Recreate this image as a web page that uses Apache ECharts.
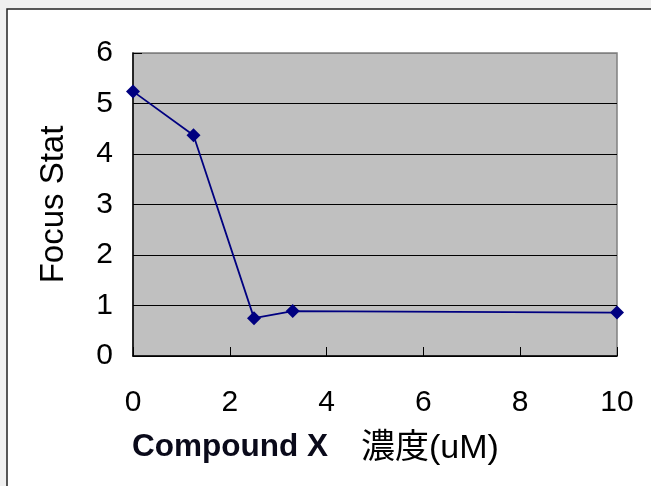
<!DOCTYPE html>
<html>
<head>
<meta charset="utf-8">
<script src="https://cdn.jsdelivr.net/npm/echarts@6/dist/echarts.min.js"></script>
<style>
  html, body { margin: 0; padding: 0; background: #f0f0f0; }
  #chart { width: 651px; height: 486px; }
</style>
</head>
<body>
<div id="chart"></div>
<script>
// concentrations (uM) and measured focus stat
const concentrations = [0, 1.25, 2.5, 3.3, 10];
const focusStat = [5.24, 4.37, 0.75, 0.89, 0.86];
const xTicks = [0, 2, 4, 6, 8, 10];
const yTicks = [0, 1, 2, 3, 4, 5, 6];

const chart = echarts.init(document.getElementById("chart"));

const fontMain = "Liberation Sans, Arial, sans-serif";

const options = {
  backgroundColor: "#f0f0f0",
  animation: false,
  // cadre blanc autour du graphique
  graphic: [
    {
      type: "rect",
      z: -100,
      shape: { x: 7, y: 9, width: 700, height: 600 },
      style: { fill: "#ffffff", stroke: "#222222", lineWidth: 1.5 },
    },
  ],
  title: [
    {
      text: "Compound X",
      left: 132,
      top: 431,
      padding: 0,
      textStyle: { fontFamily: fontMain, fontSize: 31.5, fontWeight: "bold", color: "#0a0a1a" },
    },
    {
      text: "濃度(uM)",
      left: 361,
      top: 432,
      padding: 0,
      textStyle: {
        fontFamily: "Liberation Sans, Noto Sans CJK JP, sans-serif",
        fontSize: 34,
        fontWeight: "normal",
        color: "#000",
      },
    },
  ],
  grid: {
    left: 133,
    top: 53,
    right: 34,
    bottom: 130,
    show: true,
    backgroundColor: "#c0c0c0",
    borderColor: "#808080",
    borderWidth: 1.5,
  },
  xAxis: {
    type: "value",
    min: xTicks[0],
    max: xTicks[xTicks.length - 1],
    interval: 2,
    axisLine: { lineStyle: { color: "#000", width: 1.5 } },
    axisTick: { inside: true, length: 9, lineStyle: { color: "#000" } },
    axisLabel: { fontFamily: fontMain, fontSize: 30, color: "#000", margin: 32 },
    splitLine: { show: false },
  },
  yAxis: {
    type: "value",
    min: yTicks[0],
    max: yTicks[yTicks.length - 1],
    interval: 1,
    name: "Focus Stat",
    nameLocation: "middle",
    nameGap: 63,
    nameTextStyle: { fontFamily: fontMain, fontSize: 33, color: "#000" },
    axisLine: { show: true, lineStyle: { color: "#000", width: 1.5 } },
    axisTick: { show: true, inside: true, length: 9, lineStyle: { color: "#000" } },
    axisLabel: { fontFamily: fontMain, fontSize: 30, color: "#000", margin: 20 },
    splitLine: {
      show: true,
      lineStyle: {
        color: ["#000", "#000", "#000", "#000", "#000", "#000", "#808080"],
        width: 1,
      },
    },
  },
  series: [
    {
      type: "line",
      data: concentrations.map((x, i) => [x, focusStat[i]]),
      symbol: "diamond",
      symbolSize: 14,
      clip: false,
      itemStyle: { color: "#000080" },
      lineStyle: { color: "#000080", width: 1.8 },
    },
  ],
};

chart.setOption(options);
</script>
</body>
</html>
